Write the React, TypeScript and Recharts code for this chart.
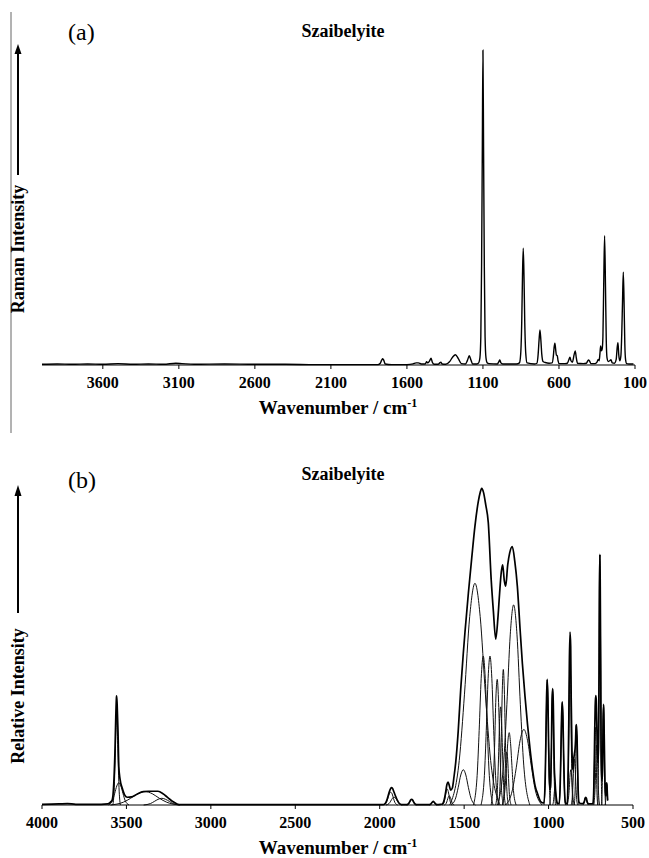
import React from 'react';
import { LineChart, Line, XAxis, YAxis } from 'recharts';

type Pt = [number, number];

// ---------- Panel (a): Raman spectrum ----------
const ramanTicks = [3600, 3100, 2600, 2100, 1600, 1100, 600, 100];
const ramanSpectrum: Pt[] = [
  [4000,0.2],[3900,0.3],[3800,0.2],[3700,0.3],[3600,0.2],[3500,0.4],[3400,0.2],[3300,0.3],[3200,0.2],[3120,0.5],[3080,0.4],[3000,0.2],[2800,0.3],[2600,0.2],[2400,0.2],[2200,0.1],[2000,0.1],[1850,0.1],[1790,0.1],[1775,0.5],[1766,1.4],[1759,1.8],[1752,1.3],[1743,0.3],[1700,0.1],[1600,0.1],[1560,0.3],[1540,0.6],[1525,0.6],[1505,0.3],[1480,0.3],[1470,0.9],[1463,0.6],[1452,1.1],[1441,1.9],[1433,0.8],[1420,0.2],[1395,0.2],[1384,0.6],[1377,0.8],[1369,0.3],[1345,0.2],[1320,0.9],[1300,2.2],[1281,2.9],[1262,1.8],[1242,0.4],[1215,0.3],[1202,1.3],[1190,2.6],[1179,1.4],[1168,0.3],[1140,0.3],[1128,0.6],[1120,2],[1114,8],[1109,28],[1104,62],[1100,89.2],[1096,62],[1091,28],[1086,8],[1080,2],[1072,0.6],[1060,0.4],[1005,0.3],[996,0.9],[989,1.4],[982,0.6],[970,0.3],[880,0.3],[860,0.6],[852,3],[845,12],[840,25],[835,33.1],[830,25],[825,12],[818,3],[810,0.6],[760,0.3],[745,0.5],[737,3],[731,7],[725,9.9],[719,7],[713,3],[705,1],[690,0.7],[665,0.5],[645,0.6],[637,2.5],[632,5],[627,6.2],[622,4.5],[617,2.8],[611,2.6],[606,1.2],[598,0.4],[560,0.4],[545,0.5],[535,1.5],[528,2.2],[521,1.2],[512,0.8],[500,3],[493,4.0],[486,2],[478,0.5],[440,0.4],[420,0.5],[410,1.2],[405,1.4],[400,1.2],[390,0.4],[362,0.4],[350,0.8],[342,1.6],[336,1.2],[331,3],[326,5.4],[321,4],[316,4.5],[311,8],[306,22],[300,36.6],[294,22],[289,7],[284,2],[276,1],[266,1.2],[258,1.5],[250,0.6],[235,0.5],[224,1.5],[217,5],[212,6.3],[207,3],[200,1.2],[193,2.5],[187,9],[182,18],[177,26.3],[172,18],[167,6],[162,1.5],[155,0.4],[140,0.3],[110,0.3]
];

// ---------- Panel (b): IR spectrum, envelope + fitted bands ----------
const irTicks = [4000, 3500, 3000, 2500, 2000, 1500, 1000, 500];
const irEnvelope: Pt[] = [
  [4000,0.2],[3900,0.3],[3850,0.4],[3800,0.2],[3700,0.2],[3650,0.2],[3610,0.3],[3595,0.8],[3585,1.3],[3575,6],[3568,15],[3563,25],[3559,30.5],[3558,30.9],[3555,28.5],[3550,21],[3545,10.8],[3538,7.4],[3525,4.8],[3510,2.8],[3495,2.2],[3470,2.3],[3440,3.0],[3400,3.8],[3370,3.9],[3340,3.9],[3313,3.9],[3300,3.7],[3270,2.7],[3245,1.7],[3223,0.9],[3200,0.3],[3180,0.1],[2800,0.1],[2400,0.1],[2000,0.1],[1990,0.1],[1976,0.15],[1965,0.6],[1955,1.8],[1945,3.5],[1935,4.7],[1930,4.9],[1925,4.8],[1915,3.6],[1905,2.4],[1895,1.3],[1885,0.5],[1870,0.1],[1840,0.1],[1829,0.4],[1823,0.85],[1817,1.4],[1811,1.6],[1805,1.4],[1799,0.85],[1793,0.4],[1782,0.1],[1705,0.1],[1697,0.3],[1693,0.55],[1688,0.85],[1683,1.0],[1678,0.85],[1673,0.55],[1669,0.3],[1661,0.1],[1640,0.2],[1629,0.3],[1618,1.5],[1610,3.5],[1602,5.8],[1595,6.5],[1588,5.5],[1580,4.2],[1570,4.8],[1560,8],[1550,12],[1535,21],[1520,33],[1505,43],[1495,49],[1475,60],[1455,70],[1436,79],[1416,86],[1405,88.5],[1396,89.7],[1385,88.5],[1372,85],[1357,80],[1340,64],[1327,55],[1313,47],[1300,53],[1290,60],[1280,66],[1272,68],[1262,63.5],[1254,62],[1242,68],[1230,71.5],[1215,73.2],[1200,69],[1185,62],[1169,50],[1155,40],[1140,31],[1125,23],[1110,16],[1095,10],[1080,5.5],[1065,3.2],[1045,0.9],[1030,0.6],[1027,0.6],[1020,7.5],[1016,18],[1012,30.3],[1008,35.6],[1004,30.3],[1000,18],[996,8],[992,4.5],[989,5],[987,6.8],[983,16.5],[980,28],[976,33],[972,28.5],[969,19],[966,10.5],[962,7],[959,4.5],[955,2.3],[950,0.8],[945,0.4],[938,0.5],[931,6],[927,14.7],[923,24.9],[919,29.2],[915,24.9],[911,14.7],[907,6],[900,0.6],[895,0.4],[890,0.5],[884,9.8],[880,24.5],[877,40],[873,49],[869,45],[866,30],[862,17],[858,11],[855,10],[851,13],[847,14.5],[843,16],[840,18.5],[837,22.5],[834,22.8],[831,18.5],[828,10.5],[825,4.5],[820,0.8],[810,0.4],[797,0.4],[791,0.7],[787,1.2],[784,1.9],[780,2.2],[776,1.9],[773,1.2],[769,0.6],[763,0.3],[745,0.3],[737,0.5],[732,5],[729,13],[727,20],[724,28],[721,31],[718,30],[715,24],[711,16],[707,12],[704,18],[701,38],[699,61],[696,71],[694,62],[691,38],[689,16],[686,7],[682,8],[679,15],[677,24],[674,28.5],[672,24.5],[669,15],[666,6],[662,2.5],[660,3.5],[658,5.5],[656,6.3],[654,5.5],[652,3.2],[650,1.3]
];

const band3558: Pt[] = [[3580,0],[3572,5],[3567,12.5],[3562,21.3],[3558,25],[3554,21.3],[3549,12.5],[3544,5],[3536,0]];
const band3545: Pt[] = [[3605,0],[3582,1.3],[3570,3.2],[3557,5.4],[3545,6.3],[3533,5.4],[3520,3.2],[3508,1.3],[3485,0]];
const band3390: Pt[] = [[3594,0],[3518,0.8],[3475,1.9],[3433,3.2],[3390,3.8],[3347,3.2],[3305,1.9],[3262,0.8],[3186,0]];
const band3290: Pt[] = [[3398,0],[3358,0.4],[3335,1],[3313,1.6],[3290,1.9],[3268,1.6],[3245,1],[3223,0.4],[3182,0]];
const band1935: Pt[] = [[1976,0],[1961,0.7],[1952,1.8],[1944,3.1],[1935,3.6],[1926,3.1],[1918,1.8],[1910,0.7],[1894,0]];
const band1915: Pt[] = [[1963,0],[1945,0.4],[1935,1.1],[1925,1.9],[1915,2.2],[1905,1.9],[1895,1.1],[1885,0.4],[1867,0]];
const band1811: Pt[] = [[1840,0],[1829,0.3],[1823,0.75],[1817,1.3],[1811,1.5],[1805,1.3],[1799,0.75],[1793,0.3],[1782,0]];
const band1683: Pt[] = [[1705,0],[1697,0.2],[1693,0.45],[1688,0.75],[1683,0.9],[1678,0.75],[1673,0.45],[1669,0.2],[1661,0]];
const band1600: Pt[] = [[1629,0],[1618,0.9],[1612,2.3],[1606,3.8],[1600,4.5],[1594,3.8],[1588,2.3],[1582,0.9],[1571,0]];
const band1588: Pt[] = [[1617,0],[1606,0.5],[1600,1.3],[1594,2.2],[1588,2.6],[1582,2.2],[1576,1.3],[1570,0.5],[1559,0]];
const band1505: Pt[] = [[1577,0],[1550,2],[1535,5],[1520,8.5],[1505,10],[1490,8.5],[1475,5],[1460,2],[1433,0]];
const band1436: Pt[] = [[1585,0],[1529,12.6],[1498,31.4],[1467,53.4],[1436,62.8],[1405,53.4],[1374,31.4],[1343,12.6],[1287,0]];
const band1387: Pt[] = [[1445,0],[1423,8.4],[1411,21.1],[1399,35.9],[1387,42.2],[1375,35.9],[1363,21.1],[1351,8.4],[1329,0]];
const band1347: Pt[] = [[1400,0],[1380,8.4],[1369,21.1],[1358,35.9],[1347,42.2],[1336,35.9],[1325,21.1],[1314,8.4],[1294,0]];
const band1304: Pt[] = [[1340,0],[1327,7.1],[1319,17.8],[1312,30.3],[1304,35.6],[1297,30.3],[1289,17.8],[1282,7.1],[1268,0]];
const band1284: Pt[] = [[1313,0],[1302,5.6],[1296,13.9],[1290,23.6],[1284,27.8],[1278,23.6],[1272,13.9],[1266,5.6],[1255,0]];
const band1268: Pt[] = [[1297,0],[1286,7.7],[1280,19.2],[1274,32.6],[1268,38.4],[1262,32.6],[1256,19.2],[1250,7.7],[1239,0]];
const band1248: Pt[] = [[1274,0],[1264,3],[1259,7.5],[1254,12.8],[1248,15],[1242,12.8],[1237,7.5],[1232,3],[1222,0]];
const band1233: Pt[] = [[1274,0],[1259,4.1],[1250,10.3],[1242,17.4],[1233,20.5],[1225,17.4],[1216,10.3],[1208,4.1],[1192,0]];
const band1207: Pt[] = [[1303,0],[1267,11.3],[1247,28.4],[1227,48.2],[1207,56.7],[1187,48.2],[1167,28.4],[1147,11.3],[1111,0]];
const band1146: Pt[] = [[1254,0],[1214,4.3],[1191,10.7],[1169,18.2],[1146,21.4],[1124,18.2],[1101,10.7],[1079,4.3],[1038,0]];
const band1008: Pt[] = [[1027,0],[1020,7.1],[1016,17.7],[1012,30],[1008,35.4],[1004,30],[1000,17.7],[996,7.1],[989,0]];
const band976: Pt[] = [[993,0],[987,6.6],[983,16.4],[980,27.9],[976,32.8],[972,27.9],[969,16.4],[966,6.6],[959,0]];
const band962: Pt[] = [[976,0],[971,1],[968,2.4],[965,4.1],[962,4.8],[959,4.1],[956,2.4],[953,1],[948,0]];
const band919: Pt[] = [[938,0],[931,5.8],[927,14.5],[923,24.7],[919,29],[915,24.7],[911,14.5],[907,5.8],[900,0]];
const band873: Pt[] = [[890,0],[884,8],[880,20.1],[877,34.2],[873,40.2],[869,34.2],[866,20.1],[862,8],[856,0]];
const band868: Pt[] = [[890,0],[882,2],[877,5],[873,8.5],[868,10],[864,8.5],[859,5],[855,2],[846,0]];
const band847: Pt[] = [[866,0],[859,2.6],[855,6.5],[851,11],[847,13],[843,11],[839,6.5],[835,2.6],[828,0]];
const band834: Pt[] = [[848,0],[843,4],[840,10],[837,17],[834,20],[831,17],[828,10],[825,4],[820,0]];
const band780: Pt[] = [[797,0],[791,0.4],[787,1],[784,1.7],[780,2],[776,1.7],[773,1],[769,0.4],[763,0]];
const band723: Pt[] = [[737,0],[732,4.4],[729,11],[726,18.7],[723,22],[720,18.7],[717,11],[714,4.4],[709,0]];
const band715: Pt[] = [[732,0],[726,3.4],[722,8.5],[719,14.5],[715,17],[711,14.5],[708,8.5],[704,3.4],[698,0]];
const band696: Pt[] = [[708,0],[704,14.2],[701,35.4],[699,60],[696,70.8],[694,60],[691,35.4],[689,14.2],[684,0]];
const band674: Pt[] = [[686,0],[682,5.6],[679,14],[677,23.8],[674,28],[672,23.8],[669,14],[667,5.6],[662,0]];
const band656: Pt[] = [[666,0],[662,1.2],[660,3],[658,5.2],[656,6.1],[654,5.2],[652,3],[650,1.2]];

const irBands: Pt[][] = [
  band3558, band3545, band3390, band3290, band1935, band1915, band1811, band1683,
  band1600, band1588, band1505, band1436, band1387, band1347, band1304, band1284,
  band1268, band1248, band1233, band1207, band1146, band1008, band976, band962,
  band919, band873, band868, band847, band834, band780, band723, band715,
  band696, band674, band656,
];

const toRows = (pts: Pt[]) => pts.map(([x, y]) => ({ x, y }));

const SERIF = "'Liberation Serif', 'Times New Roman', serif";
const tickStyle = { fontSize: 16, fontWeight: 'bold' as const, fill: '#000', fontFamily: SERIF };

export default function App() {
  return (
    <div style={{ position: 'absolute', left: 0, top: 0, width: 649, height: 858, background: '#fff', overflow: 'hidden' }}>
      <div style={{ position: 'absolute', left: 0, top: 0 }}>
        <LineChart width={649} height={420} margin={{ top: 12, right: 14, bottom: 25, left: 42 }}>
          <XAxis
            dataKey="x" type="number" domain={[100, 4000]} reversed ticks={ramanTicks}
            allowDataOverflow height={30} tick={tickStyle} tickSize={4} tickMargin={8}
            axisLine={{ stroke: '#000' }} tickLine={{ stroke: '#000' }} interval={0}
          />
          <YAxis type="number" domain={[0, 100]} width={0} tick={false} tickLine={false} axisLine={{ stroke: '#666' }} />
          <Line data={toRows(ramanSpectrum)} dataKey="y" type="monotone" stroke="#000" strokeWidth={1.4} dot={false} activeDot={false} isAnimationActive={false} />
        </LineChart>
      </div>
      <div style={{ position: 'absolute', left: 0, top: 430 }}>
        <LineChart width={649} height={428} margin={{ top: 22, right: 16, bottom: 23, left: 42 }}>
          <XAxis
            dataKey="x" type="number" domain={[500, 4000]} reversed ticks={irTicks}
            allowDataOverflow height={30} tick={tickStyle} tickSize={4} tickMargin={8}
            axisLine={{ stroke: '#000' }} tickLine={{ stroke: '#000' }} interval={0}
          />
          <YAxis type="number" domain={[0, 100]} width={0} tick={false} tickLine={false} axisLine={{ stroke: '#666' }} />
          {irBands.map((b, i) => (
            <Line key={i} data={toRows(b)} dataKey="y" type="monotone" stroke="#111" strokeWidth={1} dot={false} activeDot={false} isAnimationActive={false} />
          ))}
          <Line data={toRows(irEnvelope)} dataKey="y" type="monotone" stroke="#000" strokeWidth={1.7} dot={false} activeDot={false} isAnimationActive={false} />
        </LineChart>
      </div>
      <svg width={649} height={858} style={{ position: 'absolute', left: 0, top: 0, pointerEvents: 'none' }}>
        <line x1={11} y1={12} x2={11} y2={433} stroke="#666" strokeWidth={1} />
        <text x={68} y={40} fontFamily={SERIF} fontSize={24} fill="#000">(a)</text>
        <text x={343} y={37} textAnchor="middle" fontFamily={SERIF} fontSize={18} fontWeight="bold" fill="#000">Szaibelyite</text>
        <text x={338} y={414} textAnchor="middle" fontFamily={SERIF} fontSize={19} fontWeight="bold" fill="#000">
          Wavenumber / cm<tspan fontSize={12} dy={-7}>-1</tspan>
        </text>
        <text x={24} y={249} transform="rotate(-90 24 249)" textAnchor="middle" fontFamily={SERIF} fontSize={18} fontWeight="bold" fill="#000">Raman Intensity</text>
        <line x1={18} y1={175} x2={18} y2={52} stroke="#000" strokeWidth={2} />
        <polygon points="14.5,54 21.5,54 18,44" fill="#000" />
        <text x={68} y={488} fontFamily={SERIF} fontSize={24} fill="#000">(b)</text>
        <text x={343} y={480} textAnchor="middle" fontFamily={SERIF} fontSize={18} fontWeight="bold" fill="#000">Szaibelyite</text>
        <text x={338} y={854} textAnchor="middle" fontFamily={SERIF} fontSize={19} fontWeight="bold" fill="#000">
          Wavenumber / cm<tspan fontSize={12} dy={-7}>-1</tspan>
        </text>
        <text x={24} y={696} transform="rotate(-90 24 696)" textAnchor="middle" fontFamily={SERIF} fontSize={18} fontWeight="bold" fill="#000">Relative Intensity</text>
        <line x1={18} y1={613} x2={18} y2={494} stroke="#000" strokeWidth={2} />
        <polygon points="14.5,496 21.5,496 18,485" fill="#000" />
      </svg>
    </div>
  );
}
